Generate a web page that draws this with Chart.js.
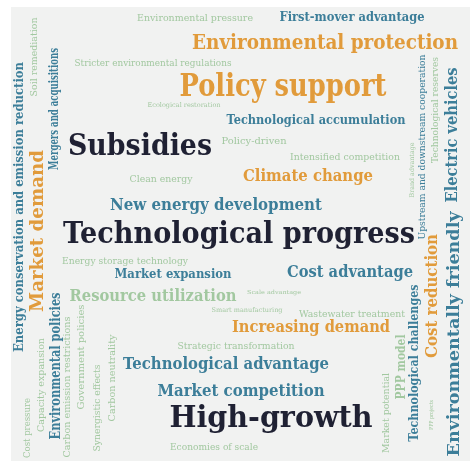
<!DOCTYPE html>
<html>
<head>
<meta charset="utf-8">
<script src="https://cdn.jsdelivr.net/npm/chart.js@4/dist/chart.umd.min.js"></script>
<style>
  html, body { margin: 0; padding: 0; background: #ffffff; }
  #wrap { width: 470px; height: 461px; }
</style>
</head>
<body>
<div id="wrap"><canvas id="cloud" width="470" height="461"></canvas></div>
<script>
// 词云数据: 词语, 位置 (画面坐标), 文字跨度, 字号, 颜色分组, 旋转角
const words = [
    'Environmental pressure', 'First-mover advantage', 'Environmental protection',
    'Stricter environmental regulations', 'Policy support', 'Ecological restoration',
    'Technological accumulation', 'Subsidies', 'Policy-driven', 'Intensified competition',
    'Clean energy', 'Climate change', 'New energy development', 'Technological progress',
    'Energy storage technology', 'Market expansion', 'Cost advantage', 'Resource utilization',
    'Scale advantage', 'Smart manufacturing', 'Wastewater treatment', 'Increasing demand',
    'Strategic transformation', 'Technological advantage', 'Market competition', 'High-growth',
    'Economies of scale',
    'Energy conservation and emission reduction', 'Soil remediation', 'Mergers and acquisitions',
    'Market demand', 'Environmental policies', 'Capacity expansion', 'Cost pressure',
    'Carbon emission restrictions', 'Government policies', 'Synergistic effects', 'Carbon neutrality',
    'Electric vehicles', 'Technological reserves', 'Upstream and downstream cooperation',
    'Brand advantage', 'Cost reduction', 'Environmentally friendly', 'Technological challenges',
    'PPP model', 'Market potential', 'PPP projects'
];
const wordX = [195, 352, 325, 153, 283, 184, 316, 140, 254, 345, 161, 308, 216, 239, 125, 173, 350, 153,
    274, 247, 352, 311, 236, 226, 241, 271, 214,
    20, 35, 55, 38, 56, 42, 28, 68, 82, 98, 113, 453, 436, 423, 412, 433, 455, 415, 402, 387, 432];
const wordY = [19, 18, 44, 64, 88, 105, 121, 147, 142, 158, 180, 177, 206, 235, 262, 275, 273, 297,
    293, 310, 315, 328, 347, 365, 392, 419, 448,
    207, 57, 109, 231, 366, 385, 428, 387, 357, 408, 378, 135, 110, 147, 170, 296, 334, 363, 367, 413, 415];
const wordLen = [116, 145, 266, 157, 207, 73, 179, 144, 65, 110, 63, 130, 212, 352, 126, 117, 126, 167,
    54, 71, 106, 158, 117, 206, 167, 203, 88,
    290, 79, 122, 162, 147, 94, 60, 141, 105, 87, 87, 135, 106, 185, 55, 124, 245, 157, 65, 80, 30];
const wordSize = [9.5, 13, 21, 9.5, 31, 6.5, 13, 29, 8.5, 8.5, 8.5, 16.5, 16.5, 29, 9.5, 13, 16.5, 16.5,
    5.5, 6.5, 9.5, 16.5, 9.5, 16.5, 16.5, 29, 9.5,
    13, 9.5, 13, 19, 14, 9.5, 8.5, 9.5, 9.5, 9.5, 9.5, 16.5, 8.5, 9.5, 6.5, 16, 16, 13, 13, 9.5, 5.5];
// 0 深色, 1 橙色, 2 蓝绿, 3 浅绿
const wordGroup = [3, 2, 1, 3, 1, 3, 2, 0, 3, 3, 3, 1, 2, 0, 3, 2, 2, 3,
    3, 3, 3, 1, 3, 2, 2, 0, 3,
    2, 3, 2, 1, 2, 3, 3, 3, 3, 3, 3, 2, 3, 2, 3, 1, 2, 2, 3, 3, 3];
const wordAngle = [0, 0, 0, 0, 0, 0, 0, 0, 0, 0, 0, 0, 0, 0, 0, 0, 0, 0,
    0, 0, 0, 0, 0, 0, 0, 0, 0,
    -90, -90, -90, -90, -90, -90, -90, -90, -90, -90, -90, -90, -90, -90, -90, -90, -90, -90, -90, -90, -90];

const groupColors = ['#1f2133', '#e19b3b', '#3c7e99', '#a2c8a0'];

// 背景面板
const panelPlugin = {
    id: 'panel',
    beforeDraw(chart) {
        const ctx = chart.ctx;
        ctx.save();
        ctx.fillStyle = '#ffffff';
        ctx.fillRect(0, 0, chart.width, chart.height);
        ctx.fillStyle = '#f1f2f1';
        ctx.fillRect(11, 7, chart.width - 11, chart.height - 7);
        ctx.restore();
    }
};

// 在每个点的位置画出词语
const wordPlugin = {
    id: 'words',
    afterDatasetsDraw(chart) {
        const ctx = chart.ctx;
        const meta = chart.getDatasetMeta(0);
        meta.data.forEach((pt, i) => {
            const size = wordSize[i];
            const weight = size >= 12 ? 'bold ' : '';
            ctx.save();
            ctx.font = weight + size + 'px "DejaVu Serif", serif';
            ctx.fillStyle = groupColors[wordGroup[i]];
            ctx.textAlign = 'center';
            ctx.textBaseline = 'middle';
            ctx.translate(pt.x, pt.y);
            ctx.rotate(wordAngle[i] * Math.PI / 180);
            const w = ctx.measureText(words[i]).width;
            ctx.scale(wordLen[i] / w, 1);
            ctx.fillText(words[i], 0, 0);
            ctx.restore();
        });
    }
};

const cloudChart = new Chart(document.getElementById('cloud'), {
    type: 'scatter',
    data: {
        datasets: [{
            label: 'words',
            data: words.map((w, i) => ({ x: wordX[i], y: wordY[i] })),
            pointRadius: 0,
            pointHoverRadius: 0
        }]
    },
    options: {
        responsive: false,
        animation: false,
        layout: { padding: 0 },
        plugins: {
            legend: { display: false },
            tooltip: { enabled: false }
        },
        scales: {
            x: { type: 'linear', min: 0, max: 470, display: false },
            y: { type: 'linear', min: 0, max: 461, reverse: true, display: false }
        }
    },
    plugins: [panelPlugin, wordPlugin]
});
</script>
</body>
</html>
